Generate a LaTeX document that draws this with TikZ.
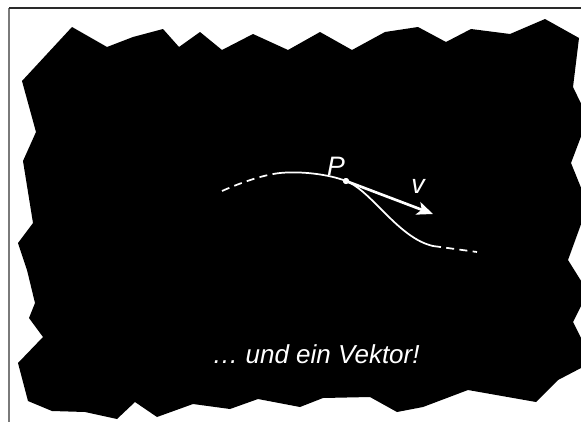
\documentclass[tikz,border=0pt]{standalone}
\usepackage{fontspec}
\setmainfont{Liberation Sans}
\usetikzlibrary{arrows.meta, positioning}
\definecolor{frGrey}{HTML}{7A7A7A}
\definecolor{frInk}{HTML}{2A2A2A}
\tikzset{
  blob/.style={fill=black, draw=none},
  curve/.style={draw=white, line width=1.3pt},
  dcurve/.style={curve, dash pattern=on 6pt off 4pt},
  vec/.style={-{Stealth[length=12pt, width=10pt, inset=3pt]}, draw=white, line width=2pt},
  pdot/.style={circle, fill=white, inner sep=0pt, minimum size=4.5pt},
  lbl/.style={text=white, font=\fontsize{20}{24}\selectfont\itshape, inner sep=0pt},
  notetext/.style={text=white, font=\fontsize{19.5}{23}\selectfont\itshape, inner sep=0pt},
}

\begin{document}
\begin{tikzpicture}[x=0.75pt, y=-0.75pt]
  \useasboundingbox (0,0) rectangle (581,421);
  \clip (0,0) rectangle (581,421);

  % frame
  \draw[frGrey, line width=0.8pt] (9,430) -- (9,8);
  \draw[frInk, line width=1pt] (9,8) -- (590,8);

  % jagged black area
  \fill[blob] (22,81) -- (72,27) -- (107,47) -- (133,37) -- (163,29) -- (179,47)
    -- (200,32) -- (222,50) -- (253,34) -- (288,50) -- (320,32) -- (352,50)
    -- (385,32) -- (418,27) -- (446,42) -- (471,29) -- (510,34) -- (545,19)
    -- (579,38) -- (573,87) -- (588,118) -- (571,163) -- (588,205) -- (568,260)
    -- (588,292) -- (573,322) -- (588,352) -- (581,368) -- (558,380) -- (536,402)
    -- (468,390) -- (423,407) -- (397,412) -- (370,397) -- (323,398) -- (300,407)
    -- (258,399) -- (230,409) -- (193,404) -- (157,417) -- (135,402) -- (117,419)
    -- (85,412) -- (52,411) -- (28,401) -- (18,363) -- (43,337) -- (29,318)
    -- (35,303) -- (27,270) -- (18,243) -- (33,223) -- (23,161) -- (36,132) -- cycle;

  % curve through P
  \coordinate (c0) at (222,191);
  \coordinate (c1) at (280,173);
  \coordinate (c2) at (433,246);
  \coordinate (c3) at (477,252);
  \node[pdot] (P) at (346,181) {};
  \draw[dcurve] (c0) .. controls (240,183) and (262,175) .. (c1);
  \draw[curve] (c1) .. controls (300,171) and (328,174) .. (P.center)
    .. controls (372,191) and (398,238) .. (c2);
  \draw[dcurve] (c2) -- (c3);

  % tangent vector
  \coordinate (vtip) at (433,214);
  \draw[vec] (P.center) -- (vtip);
  \node[pdot] at (P) {};

  \node[lbl, anchor=base] (Plbl) at (336,175) {P};
  \node[lbl, anchor=base] (vlbl) at (418,193) {v};
  \node[notetext, anchor=base] (note) at (316,363) {\dots{} und ein Vektor!};
\end{tikzpicture}
\end{document}
